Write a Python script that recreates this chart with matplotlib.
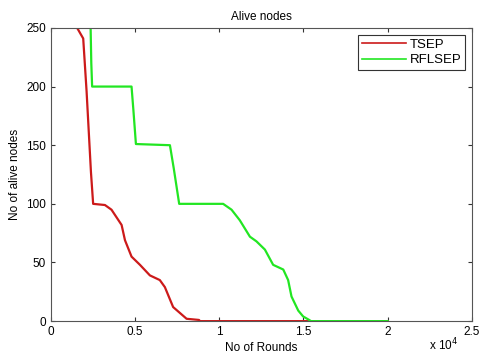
import matplotlib
matplotlib.use("Agg")
import matplotlib.pyplot as plt
from matplotlib.ticker import FuncFormatter

# Alive nodes per round
tsep_rounds = [1560, 1920, 2120, 2380, 2510, 3210, 3600, 4200, 4400, 4790,
               5290, 5880, 6470, 6770, 7260, 8060, 8800, 8850, 20000]
tsep_alive = [250, 241, 196, 127, 100, 99, 95, 82, 69, 55,
              48, 39, 35, 29, 12, 2, 1, 0, 0]

rflsep_rounds = [2360, 2400, 2450, 4790, 4900, 5050, 7070, 7300, 7620, 10230,
                 10730, 11220, 11820, 12210, 12710, 13200, 13800, 14090, 14290,
                 14690, 14980, 15340, 15450, 20000]
rflsep_alive = [250, 220, 200, 200, 180, 151, 150, 130, 100, 100,
                95, 86, 72, 68, 61, 48, 44, 35, 21,
                9, 4, 1, 0, 0]

xticks = [0, 5000, 10000, 15000, 20000, 25000]
yticks = [0, 50, 100, 150, 200, 250]

plt.rcParams["font.family"] = ["Liberation Sans", "DejaVu Sans"]
plt.rcParams["font.size"] = 8.5

fig = plt.figure(figsize=(4.8, 3.58), dpi=100)
ax = fig.add_axes([0.106, 0.103, 0.877, 0.819])

ax.plot(tsep_rounds, tsep_alive, color="#cc1a1a", lw=1.6, label="TSEP")
ax.plot(rflsep_rounds, rflsep_alive, color="#22e622", lw=1.6, label="RFLSEP")

ax.set_xlim(0, 25000)
ax.set_ylim(0, 250)
ax.set_xticks(xticks)
ax.set_yticks(yticks)
ax.xaxis.set_major_formatter(FuncFormatter(lambda v, p: f"{v / 1e4:g}"))
ax.tick_params(direction="in", top=True, right=True, length=3, width=0.8,
               labelsize=8.5, colors="#333333", labelcolor="black")
for s in ax.spines.values():
    s.set_color("#555555")
    s.set_linewidth(0.8)

ax.set_title("Alive nodes", fontsize=8.5, pad=6)
ax.set_xlabel("No of Rounds", fontsize=8.5, labelpad=3)
ax.set_ylabel("No of alive nodes", fontsize=8.5, labelpad=4)
fig.text(0.955, 0.035, r"x 10$^4$", fontsize=8.5, ha="right", va="center")

leg = ax.legend(loc="upper right", fancybox=False, framealpha=1, edgecolor="#333333",
                fontsize=9.5, handlelength=3.3, handletextpad=0.3,
                borderpad=0.3, labelspacing=0.25, borderaxespad=0.5)
leg.get_frame().set_linewidth(0.8)
for line in leg.get_lines():
    line.set_linewidth(1.2)

fig.savefig("out.png", dpi=100)
